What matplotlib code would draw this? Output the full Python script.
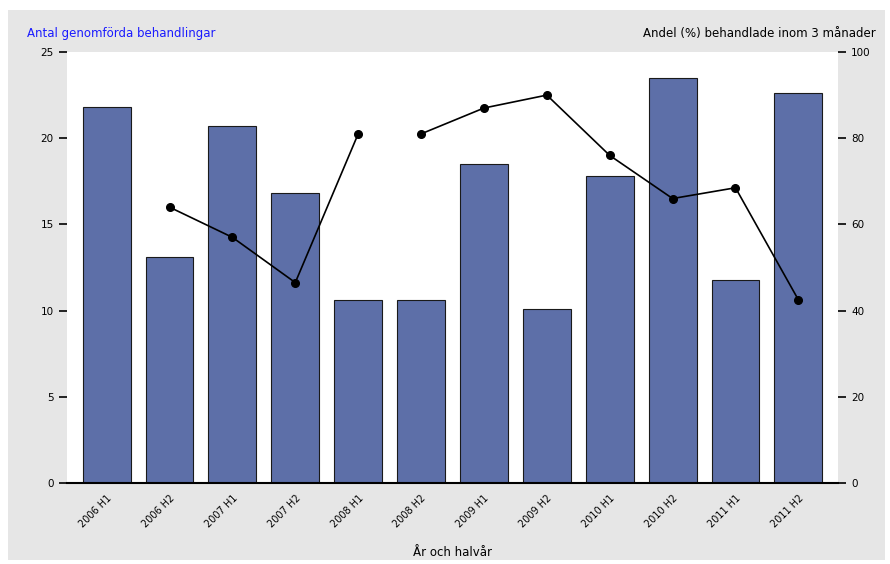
import numpy as np
import matplotlib.pyplot as plt
import matplotlib.patches as patches

# Data
periods = ['2006 H1', '2006 H2', '2007 H1', '2007 H2', '2008 H1', '2008 H2',
           '2009 H1', '2009 H2', '2010 H1', '2010 H2', '2011 H1', '2011 H2']
antal = [21.8, 13.1, 20.7, 16.8, 10.6, 10.6, 18.5, 10.1, 17.8, 23.5, 11.8, 22.6]
andel = [np.nan, 64, 57, 46.5, 81, 81, 87, 90, 76, 66, 68.5, 42.5]

fig = plt.figure(figsize=(8.9, 5.64), dpi=100)
fig.patch.set_facecolor('white')

# gray panel behind the chart
panel = patches.Rectangle((8 / 890, 1 - 560 / 564), 877 / 890, 550 / 564,
                          transform=fig.transFigure, facecolor='#e6e6e6',
                          edgecolor='none', zorder=-10)
fig.patches.append(panel)

ax = fig.add_axes([67 / 890, 1 - 483 / 564, 771 / 890, 431 / 564])
ax.set_facecolor('white')
x = np.arange(len(periods))
ax.bar(x, antal, width=0.76, color='#5d6fa8', edgecolor='#1a1a1a', linewidth=0.8)
ax.set_xlim(-0.63, 11.63)
ax.set_ylim(0, 25)
ax.set_yticks([0, 5, 10, 15, 20, 25])
ax.set_xticks(x)
ax.set_xticklabels(periods, rotation=45, ha='right', rotation_mode='anchor', fontsize=7)
ax.tick_params(axis='y', labelsize=7.5, length=6, width=1.2)
ax.tick_params(axis='x', length=0, pad=7)
for s in ['left', 'right', 'top']:
    ax.spines[s].set_visible(False)
ax.spines['bottom'].set_linewidth(1.5)
ax.set_xlabel('År och halvår', fontsize=8.5, labelpad=12)

ax2 = ax.twinx()
ax2.set_ylim(0, 100)
ax2.set_yticks([0, 20, 40, 60, 80, 100])
ax2.tick_params(axis='y', labelsize=7.5, length=6, width=1.2)
for s in ['left', 'right', 'top', 'bottom']:
    ax2.spines[s].set_visible(False)

# line is broken between the fifth and sixth period
xs = list(x)
ax2.plot(xs[:5], andel[:5], color='black', linewidth=1.2, marker='o', markersize=5.5)
ax2.plot(xs[5:], andel[5:], color='black', linewidth=1.2, marker='o', markersize=5.5)

fig.text(27 / 890, 1 - 33 / 564, 'Antal genomförda behandlingar', color='#1a1aff',
         fontsize=8.5, ha='left', va='center')
fig.text(876 / 890, 1 - 33 / 564, 'Andel (%) behandlade inom 3 månader', color='black',
         fontsize=8.5, ha='right', va='center')

fig.savefig('out.png', dpi=100)
